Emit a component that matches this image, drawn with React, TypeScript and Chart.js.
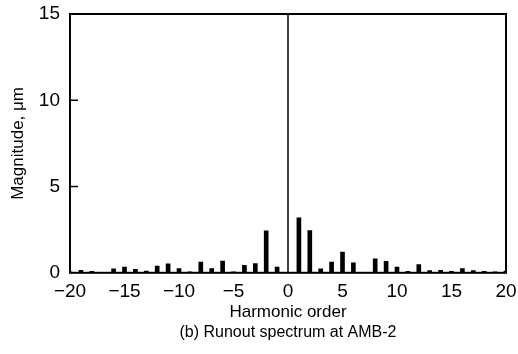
import React, { useEffect, useRef } from "react";
import Chart from "chart.js/auto";

const orders = [-20, -19, -18, -17, -16, -15, -14, -13, -12, -11, -10, -9, -8, -7, -6, -5, -4, -3, -2, -1, 0, 1, 2, 3, 4, 5, 6, 7, 8, 9, 10, 11, 12, 13, 14, 15, 16, 17, 18, 19, 20];
const magnitudes = [0.05, 0.15, 0.08, 0.02, 0.23, 0.33, 0.2, 0.1, 0.39, 0.52, 0.25, 0.06, 0.62, 0.25, 0.68, 0.06, 0.44, 0.54, 2.43, 0.33, 0.0, 3.18, 2.45, 0.23, 0.62, 1.2, 0.58, 0.02, 0.81, 0.66, 0.33, 0.08, 0.48, 0.13, 0.15, 0.08, 0.25, 0.13, 0.08, 0.06, 0.1];
const xTicks = [-20, -15, -10, -5, 0, 5, 10, 15, 20];
const yTicks = [0, 5, 10, 15];
const xTitle = "Harmonic order";
const yTitle = "Magnitude, μm";
const caption = "(b) Runout spectrum at AMB-2";

const FONT = "'Liberation Sans', Arial, sans-serif";

const framePlugin = {
  id: "frame",
  afterDatasetsDraw(chart: any) {
    const { ctx, chartArea, scales } = chart;
    const { left, right, top, bottom } = chartArea;
    ctx.save();
    ctx.strokeStyle = "#000";
    ctx.lineWidth = 2;
    ctx.strokeRect(left, top, right - left, bottom - top);
    const x0 = scales.x.getPixelForValue(0);
    ctx.lineWidth = 1.5;
    ctx.beginPath();
    ctx.moveTo(x0, top);
    ctx.lineTo(x0, bottom);
    ctx.stroke();
    yTicks.forEach((v) => {
      if (v === 0 || v === 15) return;
      const y = scales.y.getPixelForValue(v);
      ctx.beginPath();
      ctx.moveTo(left, y);
      ctx.lineTo(left + 8, y);
      ctx.stroke();
    });
    ctx.restore();
  },
};

export default function App() {
  const ref = useRef<HTMLCanvasElement>(null);
  useEffect(() => {
    document.body.style.margin = "0";
    const canvas = ref.current!;
    const chart = new Chart(canvas, {
      type: "bar",
      data: {
        datasets: [
          {
            data: orders.map((o, i) => ({ x: o, y: magnitudes[i] })),
            backgroundColor: "#000",
            borderWidth: 0,
            barThickness: 4,
          },
        ],
      },
      options: {
        animation: false,
        responsive: false,
        maintainAspectRatio: false,
        layout: { padding: { top: 14, right: 12, left: 0, bottom: 0 } },
        plugins: {
          legend: { display: false },
          tooltip: { enabled: false },
          title: {
            display: true,
            position: "bottom",
            fullSize: false,
            text: caption,
            color: "#000",
            font: { family: FONT, size: 16, weight: "normal" },
            padding: { top: 0, bottom: 12 },
          },
        },
        scales: {
          x: {
            type: "linear",
            min: -20,
            max: 20,
            offset: false,
            grid: { display: false, drawTicks: false },
            border: { display: false },
            afterBuildTicks: (s: any) => {
              s.ticks = xTicks.map((v) => ({ value: v }));
            },
            ticks: {
              color: "#000",
              padding: 8,
              maxRotation: 0,
              autoSkip: false,
              font: { family: FONT, size: 19 },
              callback: (v: any) => String(v).replace("-", "\u2212"),
            },
            title: {
              display: true,
              text: xTitle,
              color: "#000",
              font: { family: FONT, size: 17 },
              padding: { top: 0, bottom: 0 },
            },
            afterFit: (s: any) => {
              s.height = 50;
              s.paddingLeft = 0;
              s.paddingRight = 0;
            },
          },
          y: {
            min: 0,
            max: 15,
            grid: { display: false, drawTicks: false },
            border: { display: false },
            afterBuildTicks: (s: any) => {
              s.ticks = yTicks.map((v) => ({ value: v }));
            },
            ticks: {
              color: "#000",
              padding: 10,
              font: { family: FONT, size: 19 },
            },
            title: {
              display: true,
              text: yTitle,
              color: "#000",
              font: { family: FONT, size: 17 },
              padding: { top: 8, bottom: 0 },
            },
            afterFit: (s: any) => {
              s.width = 70;
              s.paddingTop = 0;
              s.paddingBottom = 0;
            },
          },
        },
      },
      plugins: [framePlugin],
    });
    return () => chart.destroy();
  }, []);
  return (
    <div style={{ width: 518, height: 354 }}>
      <canvas ref={ref} width={518} height={354} style={{ width: 518, height: 354, display: "block" }} />
    </div>
  );
}
